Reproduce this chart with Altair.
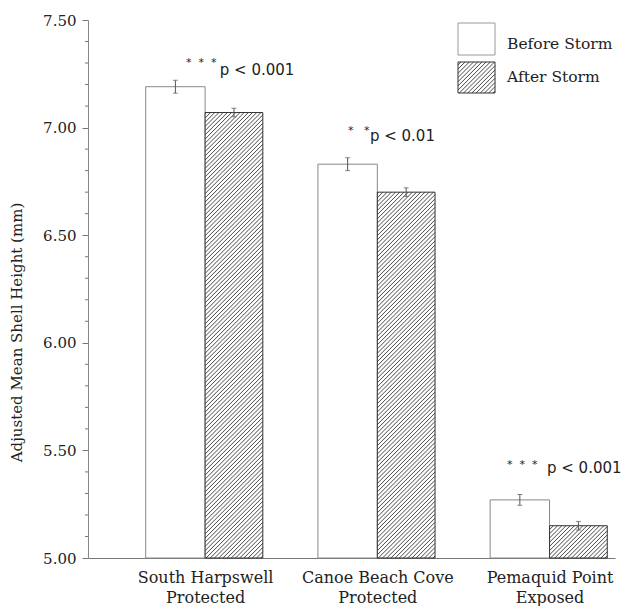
import json
import altair as alt
import pandas as pd

# ---------------- data ----------------
sites = ["South Harpswell", "Canoe Beach Cove", "Pemaquid Point"]
exposure = ["Protected", "Protected", "Exposed"]
before = [7.19, 6.83, 5.27]
after = [7.07, 6.70, 5.15]
before_err = [0.03, 0.03, 0.025]
after_err = [0.02, 0.02, 0.02]
NB = "\u00a0"
sig_stars = [f"*{NB}{NB}*{NB}{NB}*", f"*{NB}{NB}{NB}*", f"*{NB}{NB}*{NB}{NB}*"]
sig_text = ["p < 0.001", "p < 0.01", "p < 0.001"]
sig_y = [7.268, 6.961, 5.418]
legend_labels = ["Before Storm", "After Storm"]
y_major_ticks = [5.0, 5.5, 6.0, 6.5, 7.0, 7.5]
y_minor_ticks = [5.1, 5.2, 5.3, 5.4, 5.6, 5.7, 5.8, 5.9, 6.1, 6.2, 6.3, 6.4,
                 6.6, 6.7, 6.8, 6.9, 7.1, 7.2, 7.3, 7.4]

# ---------------- geometry / style ----------------
W, H = 527, 538
XDOM = [-0.68, 2.38]
YDOM = [5.0, 7.5]
PXX = W / (XDOM[1] - XDOM[0])
PXY = H / (YDOM[1] - YDOM[0])
BW_B = 0.345
BW_A = 0.335
STEP = 4.2
SERIF = "DejaVu Serif"
SANS = "DejaVu Sans"
# annotation layout (offsets from each group's centre, in category units)
STAR_DX = [-0.111, -0.170, -0.247]
P_DX = [0.085, -0.043, -0.015]
STAR_DY = [0.03, 0.025, 0.012]


def hatch(x0, x1, y0, y1, step=STEP):
    """diagonal (///) segments inside box, pixel coords with y upward"""
    segs = []
    wp, hp = x1 - x0, y1 - y0
    c = -wp + step / 2
    while c < hp:
        w0 = max(0.0, -c)
        w1 = min(wp, hp - c)
        if w1 > w0:
            segs.append((x0 + w0, y0 + w0 + c, x0 + w1, y0 + w1 + c))
        c += step
    return segs


rows_b, rows_a, rows_h, rows_e = [], [], [], []
for i, s in enumerate(sites):
    rows_b.append({"x": i - BW_B, "x2": i, "y": before[i], "y2": YDOM[0]})
    rows_a.append({"x": i, "x2": i + BW_A, "y": after[i], "y2": YDOM[0]})
    for (a, b, c, d) in hatch(0, BW_A * PXX, 0, (after[i] - YDOM[0]) * PXY):
        rows_h.append({"x": i + a / PXX, "y": YDOM[0] + b / PXY,
                       "x2": i + c / PXX, "y2": YDOM[0] + d / PXY})
    rows_e.append({"x": i - BW_B / 2, "lo": before[i] - before_err[i], "hi": before[i] + before_err[i]})
    rows_e.append({"x": i + BW_A / 2, "lo": after[i] - after_err[i], "hi": after[i] + after_err[i]})

df_b = pd.DataFrame(rows_b)
df_a = pd.DataFrame(rows_a)
df_h = pd.DataFrame(rows_h)
df_e = pd.DataFrame(rows_e)
df_sig = pd.DataFrame({
    "xs": [i + d for i, d in enumerate(STAR_DX)],
    "xp": [i + d for i, d in enumerate(P_DX)],
    "ys": [v + d for v, d in zip(sig_y, STAR_DY)],
    "y": sig_y,
    "stars": sig_stars,
    "p": sig_text,
})
df_minor = pd.DataFrame({"v": y_minor_ticks})

xs = alt.Scale(domain=XDOM, nice=False, zero=False)
ys = alt.Scale(domain=YDOM, nice=False, zero=False)

label_arr = json.dumps([[s, e] for s, e in zip(sites, exposure)])

x_axis = alt.Axis(
    values=[0, 1, 2], labelExpr=f"{label_arr}[datum.value]", tickSize=0,
    labelFont=SERIF, labelFontSize=16, labelColor="#222", labelLineHeight=20,
    labelPadding=11, domainColor="#777", title=None, grid=False,
    labelOverlap=False,
)
y_axis = alt.Axis(
    values=y_major_ticks, format=".2f", labelOverlap=False,
    tickSize=6, tickColor="#777", domainColor="#888", grid=False,
    labelFont=SERIF, labelFontSize=15, labelColor="#222", labelPadding=6,
    title="Adjusted Mean Shell Height (mm)", titleFont=SERIF, titleFontSize=15,
    titleFontWeight="normal", titleColor="#222", titlePadding=18, titleY=312,
)

bars_b = alt.Chart(df_b).mark_rect(fill="white", stroke="#888", strokeWidth=1).encode(
    x=alt.X("x:Q", scale=xs, axis=x_axis), x2="x2",
    y=alt.Y("y:Q", scale=ys, axis=y_axis), y2="y2",
)
bars_a = alt.Chart(df_a).mark_rect(fill="white", stroke="#333", strokeWidth=1).encode(
    x=alt.X("x:Q", scale=xs), x2="x2", y=alt.Y("y:Q", scale=ys), y2="y2",
)
hatch_l = alt.Chart(df_h).mark_rule(color="#333", strokeWidth=0.9).encode(
    x=alt.X("x:Q", scale=xs), x2="x2", y=alt.Y("y:Q", scale=ys), y2="y2",
)
err_l = alt.Chart(df_e).mark_rule(color="#555", strokeWidth=1).encode(
    x=alt.X("x:Q", scale=xs), y=alt.Y("lo:Q", scale=ys), y2="hi",
)
cap_lo = alt.Chart(df_e).mark_tick(orient="horizontal", size=5, thickness=1, color="#555").encode(
    x=alt.X("x:Q", scale=xs), y=alt.Y("lo:Q", scale=ys),
)
cap_hi = alt.Chart(df_e).mark_tick(orient="horizontal", size=5, thickness=1, color="#555").encode(
    x=alt.X("x:Q", scale=xs), y=alt.Y("hi:Q", scale=ys),
)
minor = alt.Chart(df_minor).mark_rule(color="#777", strokeWidth=1, clip=False).encode(
    x=alt.value(-3), x2=alt.value(0), y=alt.Y("v:Q", scale=ys),
)
stars_t = alt.Chart(df_sig).mark_text(font=SANS, fontSize=11, align="left", baseline="middle", color="#222").encode(
    x=alt.X("xs:Q", scale=xs), y=alt.Y("ys:Q", scale=ys), text="stars:N",
)
p_t = alt.Chart(df_sig).mark_text(font=SANS, fontSize=15, align="left", baseline="middle", color="#222").encode(
    x=alt.X("xp:Q", scale=xs), y=alt.Y("y:Q", scale=ys), text="p:N",
)

# ---------- manual legend (pixel coordinates inside the plot area) ----------
LB = (370, 407, 3, 35)
LA = (370, 407, 42, 73)
df_lrect = pd.DataFrame([
    {"x": LB[0], "x2": LB[1], "y": LB[2], "y2": LB[3]},
    {"x": LA[0], "x2": LA[1], "y": LA[2], "y2": LA[3]},
])
lh = []
for (a, b, c, d) in hatch(0, LA[1] - LA[0], 0, LA[3] - LA[2]):
    hp = LA[3] - LA[2]
    lh.append({"x": LA[0] + a, "y": LA[2] + hp - b, "x2": LA[0] + c, "y2": LA[2] + hp - d})
df_lh = pd.DataFrame(lh)
df_ltxt = pd.DataFrame({"x": [419, 419], "y": [24, 57], "t": legend_labels})

leg_b = alt.Chart(df_lrect.iloc[[0]]).mark_rect(fill="white", stroke="#999").encode(
    x=alt.X("x:Q", scale=None), x2="x2", y=alt.Y("y:Q", scale=None), y2="y2",
)
leg_a = alt.Chart(df_lrect.iloc[[1]]).mark_rect(fill="white", stroke="#333").encode(
    x=alt.X("x:Q", scale=None), x2="x2", y=alt.Y("y:Q", scale=None), y2="y2",
)
leg_h = alt.Chart(df_lh).mark_rule(color="#333", strokeWidth=0.9).encode(
    x=alt.X("x:Q", scale=None), x2="x2", y=alt.Y("y:Q", scale=None), y2="y2",
)
leg_t = alt.Chart(df_ltxt).mark_text(font=SERIF, fontSize=15.5, align="left", baseline="middle", color="#222").encode(
    x=alt.X("x:Q", scale=None), y=alt.Y("y:Q", scale=None), text="t:N",
)

chart = alt.layer(
    bars_b, bars_a, hatch_l, err_l, cap_lo, cap_hi, minor, stars_t, p_t,
    leg_b, leg_a, leg_h, leg_t,
).properties(
    width=W, height=H,
    autosize=alt.AutoSizeParams(type="none"),
    padding={"left": 80, "top": 12, "right": 10, "bottom": 48},
    background="white",
).configure_view(stroke=None)

chart.save("out.html", embed_options={"renderer": "svg", "actions": False})
